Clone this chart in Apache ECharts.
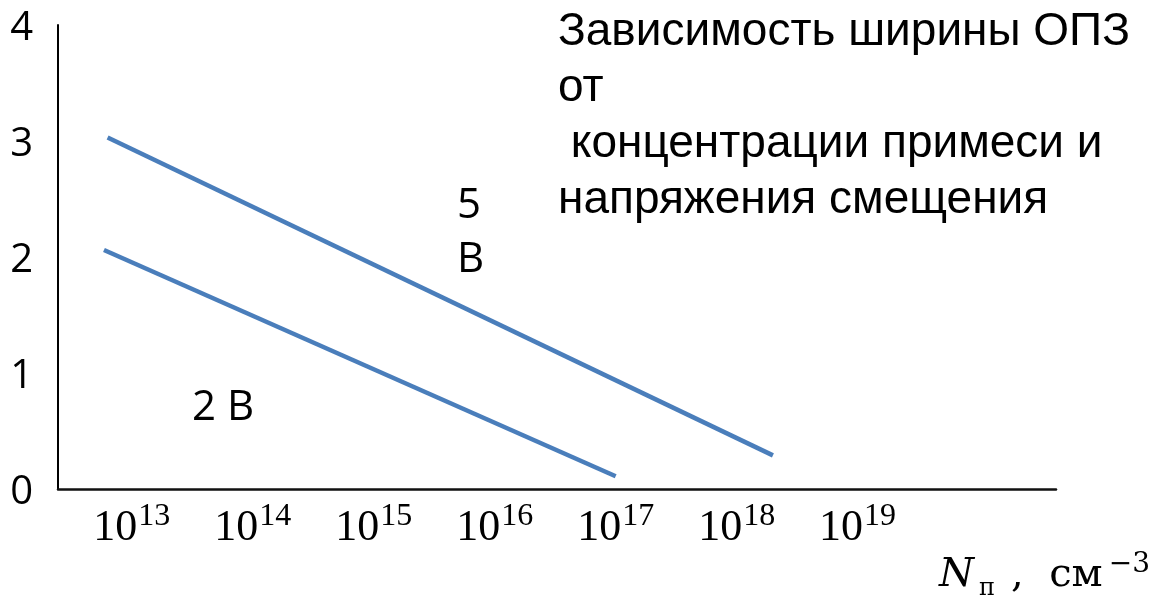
<!DOCTYPE html>
<html>
<head>
<meta charset="utf-8">
<script src="https://cdn.jsdelivr.net/npm/echarts@6/dist/echarts.min.js"></script>
<style>
  html, body { margin: 0; padding: 0; background: #fff; }
  #chart { width: 1152px; height: 600px; }
</style>
</head>
<body>
<div id="chart"></div>
<script>
// Space-charge region width vs impurity concentration (log10 N) at two bias voltages
const decades = [13, 14, 15, 16, 17, 18, 19];      // x tick exponents, N = 10^d
const yTicks = [0, 1, 2, 3, 4];
const line5V = [[12.80, 3.03], [18.30, 0.29]];     // [log10 N, width]
const line2V = [[12.77, 2.06], [17.00, 0.11]];
const seriesNames = ['5 В', '2 В'];
const titleLines = ['Зависимость ширины ОПЗ', 'от', ' концентрации примеси и', 'напряжения смещения'];

const chart = echarts.init(document.getElementById('chart'));
const blue = '#4a7ebb';
const sans = 'Open Sans';
const serif = 'Liberation Serif';
const mathSerif = 'DejaVu Serif';

chart.setOption({
  animation: false,
  backgroundColor: '#fff',
  title: {
    text: titleLines.join('\n'),
    left: 553,
    top: -1,
    textStyle: {
      fontFamily: 'Liberation Sans',
      fontSize: 46,
      fontWeight: 'normal',
      color: '#000',
      lineHeight: 56
    }
  },
  grid: { left: 58, right: 96, top: 25, bottom: 111, containLabel: false },
  xAxis: {
    type: 'value',
    min: 12.39,
    max: 20.64,
    axisLine: { show: true, lineStyle: { color: '#111', width: 2.5 } },
    axisTick: { show: false },
    splitLine: { show: false },
    axisLabel: {
      customValues: decades,
      margin: 12,
      formatter: v => '{n|10}{s|' + v + '}',
      rich: {
        n: { fontFamily: serif, fontSize: 44, color: '#000', lineHeight: 48, padding: [6, 0, 0, 0] },
        s: { fontFamily: serif, fontSize: 32, color: '#000', lineHeight: 32, verticalAlign: 'top', padding: [0, 0, 0, 1] }
      }
    }
  },
  yAxis: {
    type: 'value',
    min: yTicks[0],
    max: yTicks[yTicks.length - 1],
    interval: 1,
    axisLine: { show: true, lineStyle: { color: '#000', width: 2 } },
    axisTick: { show: false },
    splitLine: { show: false },
    axisLabel: {
      margin: 25,
      formatter: v => '{d|' + v + '}',
      rich: {
        d: { fontFamily: sans, fontSize: 40, color: '#000', lineHeight: 44, padding: [8, 0, 0, 0] }
      }
    }
  },
  series: [
    {
      name: seriesNames[0],
      type: 'line',
      data: line5V,
      symbol: 'none',
      lineStyle: { color: blue, width: 4.5 }
    },
    {
      name: seriesNames[1],
      type: 'line',
      data: line2V,
      symbol: 'none',
      lineStyle: { color: blue, width: 4.5 }
    }
  ],
  graphic: [
    {
      type: 'text',
      left: 457,
      top: 179,
      style: {
        text: seriesNames[0].replace(' ', '\n'),
        fontFamily: sans,
        fontSize: 42,
        lineHeight: 54,
        fill: '#000'
      }
    },
    {
      type: 'text',
      left: 192,
      top: 387,
      style: {
        text: seriesNames[1],
        fontFamily: sans,
        fontSize: 42,
        fill: '#000'
      }
    },
    {
      type: 'text',
      right: 2,
      top: 551,
      style: {
        text: '{i|N}{sub|п}{t|,  см}{sup|−3}',
        rich: {
          i: { fontFamily: mathSerif, fontStyle: 'italic', fontSize: 40, fill: '#000', lineHeight: 50 },
          sub: { fontFamily: mathSerif, fontSize: 24, fill: '#000', lineHeight: 22, verticalAlign: 'bottom', padding: [0, 16, 0, 5] },
          t: { fontFamily: mathSerif, fontSize: 40, fill: '#000', lineHeight: 50 },
          sup: { fontFamily: mathSerif, fontSize: 28, fill: '#000', lineHeight: 28, verticalAlign: 'top', padding: [0, 0, 0, 6] }
        }
      }
    }
  ]
});
</script>
</body>
</html>
